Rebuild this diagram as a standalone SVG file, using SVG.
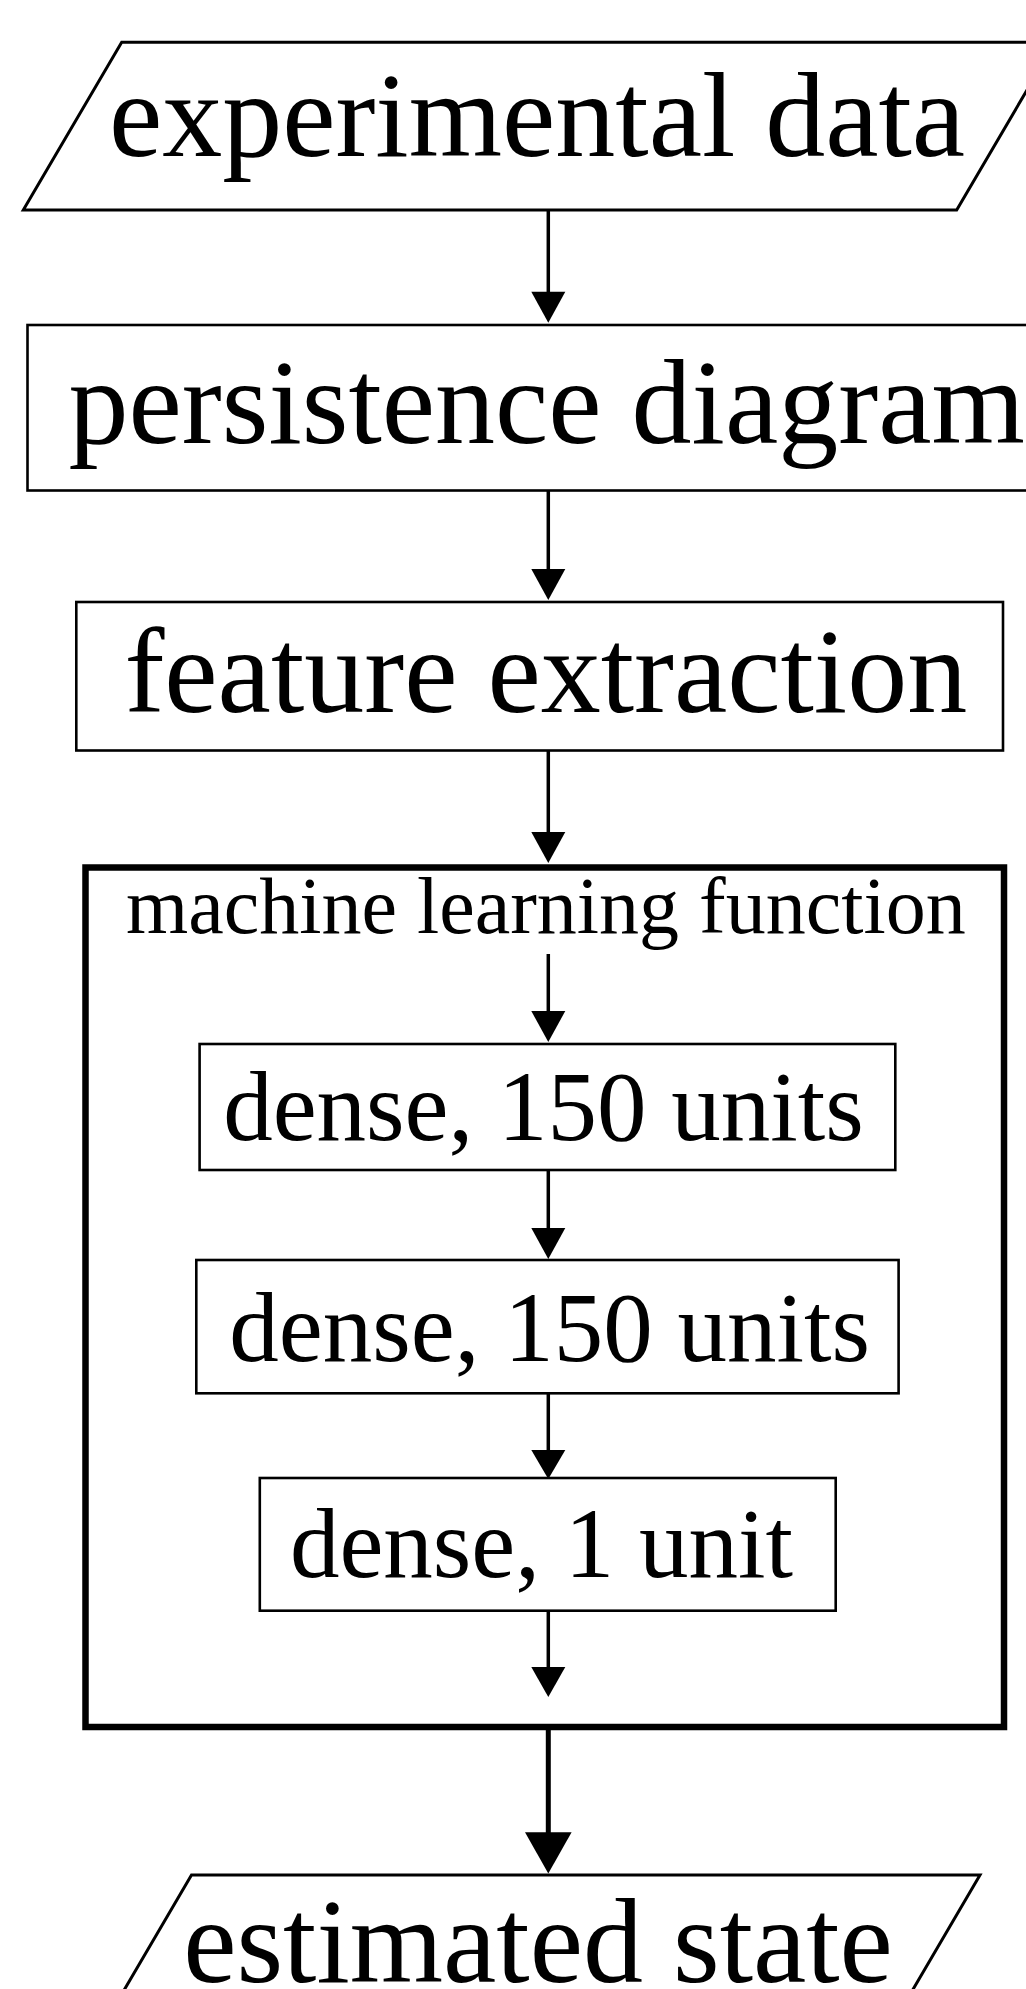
<svg xmlns="http://www.w3.org/2000/svg" width="1026" height="1989" viewBox="0 0 1026 1989">
<style>
.shape{fill:#fff;stroke:#000;stroke-width:3}
.box{fill:#fff;stroke:#000;stroke-width:2.6}
.outer{fill:none;stroke:#000;stroke-width:6.5}
.big{font-family:"Liberation Serif","Times New Roman",serif;font-size:120px;fill:#000}
.mid{font-family:"Liberation Serif","Times New Roman",serif;font-size:99px;fill:#000}
.small{font-family:"Liberation Serif","Times New Roman",serif;font-size:80px;fill:#000}
.line{stroke:#000;stroke-width:3.5;fill:none}
.thick{stroke:#000;stroke-width:5;fill:none}
.head{fill:#000;stroke:none}
</style>
<rect width="1026" height="1989" fill="#fff"/>
<g id="experimental-data">
<polygon class="shape" points="121.7,42.3 1055,42.3 956.7,210 23.3,210"/>
<text class="big" x="537" y="156" text-anchor="middle">experimental data</text>
</g>
<g id="persistence-diagram">
<rect class="box" x="27.5" y="325" width="1050" height="165.5"/>
<text class="big" x="68.5" y="443">persistence diagram</text>
</g>
<g id="feature-extraction">
<rect class="box" x="76.3" y="602" width="926.7" height="148.5"/>
<text class="big" x="545.8" y="711.7" text-anchor="middle">feature extraction</text>
</g>
<g id="machine-learning-function">
<rect class="outer" x="85.5" y="867.5" width="918.5" height="859.5"/>
<text class="small" x="545.8" y="933.3" text-anchor="middle">machine learning function</text>
</g>
<g id="dense-1">
<rect class="box" x="199.6" y="1044" width="695.7" height="126"/>
<text class="mid" x="543.5" y="1140" text-anchor="middle">dense, 150 units</text>
</g>
<g id="dense-2">
<rect class="box" x="196.3" y="1260" width="702.3" height="133.3"/>
<text class="mid" x="549.7" y="1361" text-anchor="middle">dense, 150 units</text>
</g>
<g id="dense-3">
<rect class="box" x="259.8" y="1478" width="575.9" height="132.7"/>
<text class="mid" x="541.5" y="1577" text-anchor="middle">dense, 1 unit</text>
</g>
<g id="estimated-state">
<polygon class="shape" points="191.5,1875 980,1875 881.6,2043 93.1,2043"/>
<text class="big" x="538" y="1982" text-anchor="middle">estimated state</text>
</g>
<g id="connectors">
<line class="line" x1="548.3" y1="210" x2="548.3" y2="295"/>
<polygon class="head" points="531.3,291.7 565.3,291.7 548.3,322.7"/>
<line class="line" x1="548.3" y1="490.5" x2="548.3" y2="572"/>
<polygon class="head" points="531.3,569 565.3,569 548.3,600"/>
<line class="line" x1="548.3" y1="750.5" x2="548.3" y2="835"/>
<polygon class="head" points="531.3,832 565.3,832 548.3,863"/>
<line class="line" x1="548.3" y1="954" x2="548.3" y2="1014"/>
<polygon class="head" points="531.3,1011 565.3,1011 548.3,1042"/>
<line class="line" x1="548.3" y1="1170" x2="548.3" y2="1231"/>
<polygon class="head" points="531.3,1228 565.3,1228 548.3,1259"/>
<line class="line" x1="548.3" y1="1393.3" x2="548.3" y2="1453"/>
<polygon class="head" points="531.3,1450 565.3,1450 548.3,1479"/>
<line class="line" x1="548.3" y1="1610.7" x2="548.3" y2="1670"/>
<polygon class="head" points="531.3,1667 565.3,1667 548.3,1697"/>
<line class="thick" x1="548.3" y1="1730" x2="548.3" y2="1836"/>
<polygon class="head" points="525,1832.3 571.6,1832.3 548.3,1873.5"/>
</g>
</svg>
